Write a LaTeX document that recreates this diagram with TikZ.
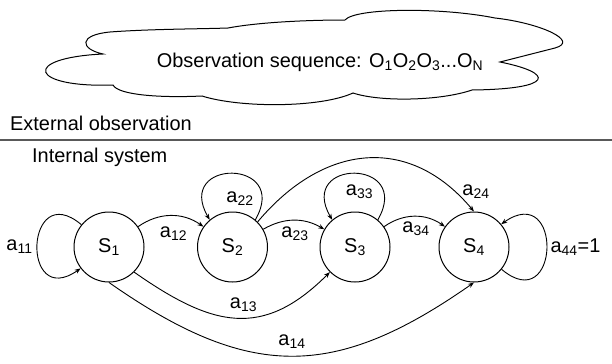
\documentclass[tikz,border=0pt]{standalone}
\usepackage{fontspec}
\setmainfont{Liberation Sans}
\usetikzlibrary{arrows.meta}

\begin{document}
\begin{tikzpicture}[x=1bp,y=1bp,
  font=\fontsize{20}{24}\selectfont,
  state/.style={draw,circle,line width=1bp,minimum size=70bp,inner sep=0pt},
  lbl/.style={inner sep=0pt,anchor=base},
  trans/.style={line width=0.9bp,-{Stealth[length=6bp,width=4.5bp]}}]
\useasboundingbox (0,0) rectangle (612,363);
% cloud with the observations
\draw[line width=1bp] (103,309) .. controls (80,314) and (78,328) .. (110,331)
  .. controls (150,334) and (200,334) .. (228,335)
  .. controls (260,341) and (310,343) .. (345,343)
  .. controls (355,355) and (440,356) .. (495,345)
  .. controls (540,340) and (580,322) .. (555,315) -- (500,301)
  .. controls (555,290) and (555,274) .. (472,273)
  .. controls (440,262) and (380,261) .. (353,270)
  .. controls (320,255) and (240,255) .. (202,267)
  .. controls (160,265) and (118,268) .. (113,278)
  .. controls (30,275) and (20,305) .. cycle;
\node[lbl] (obs) at (320,296) {Observation sequence: O\textsubscript{1}O\textsubscript{2}O\textsubscript{3}...O\textsubscript{N}};
% dividing line
\coordinate (divl) at (0,223);
\coordinate (divr) at (612,223);
\draw[line width=1.5bp,black!65] (divl) -- (divr);
\node[inner sep=0pt,anchor=base west] (ext) at (10,233) {External observation};
\node[inner sep=0pt,anchor=base west] (int) at (32,201) {Internal system};
% states
\node[state] (S1) at (109,116) {S\textsubscript{1}};
\node[state] (S2) at (232.5,116) {S\textsubscript{2}};
\node[state] (S3) at (355,116) {S\textsubscript{3}};
\node[state] (S4) at (474,116) {S\textsubscript{4}};
% transitions
\draw[trans] (S1.141) to[out=140,in=215,looseness=4.3] (S1.217);
\draw[trans] (S1) to[bend left=35] (S2);
\draw[trans] (S2.50) to[out=60,in=120,looseness=4] (S2.130);
\draw[trans] (S2) to[bend left=30] (S3);
\draw[trans] (S2.45) to[out=50,in=130,looseness=1.2] (S4.90);
\draw[trans] (S3.50) to[out=60,in=120,looseness=4] (S3.130);
\draw[trans] (S3) to[bend left=35] (S4);
\draw[trans] (S4.-39) to[out=-40,in=35,looseness=4.3] (S4.40);
\draw[trans] (S1.-45) to[out=-35,in=-135,looseness=1.25] (S3.-135);
\draw[trans] (S1.-90) to[out=-35,in=-145,looseness=1.2] (S4.-90);
% probabilities
\node[lbl] (l11) at (19.5,113) {a\textsubscript{11}};
\node[lbl] (l12) at (173.5,126) {a\textsubscript{12}};
\node[lbl] (l22) at (240,161) {a\textsubscript{22}};
\node[lbl] (l23) at (295,126) {a\textsubscript{23}};
\node[lbl] (l33) at (359.5,168) {a\textsubscript{33}};
\node[lbl] (l34) at (416,131) {a\textsubscript{34}};
\node[lbl] (l24) at (476,168) {a\textsubscript{24}};
\node[lbl] (l44) at (575.5,111) {a\textsubscript{44}=1};
\node[lbl] (l13) at (243.5,55) {a\textsubscript{13}};
\node[lbl] (l14) at (292,18) {a\textsubscript{14}};
\end{tikzpicture}
\end{document}
